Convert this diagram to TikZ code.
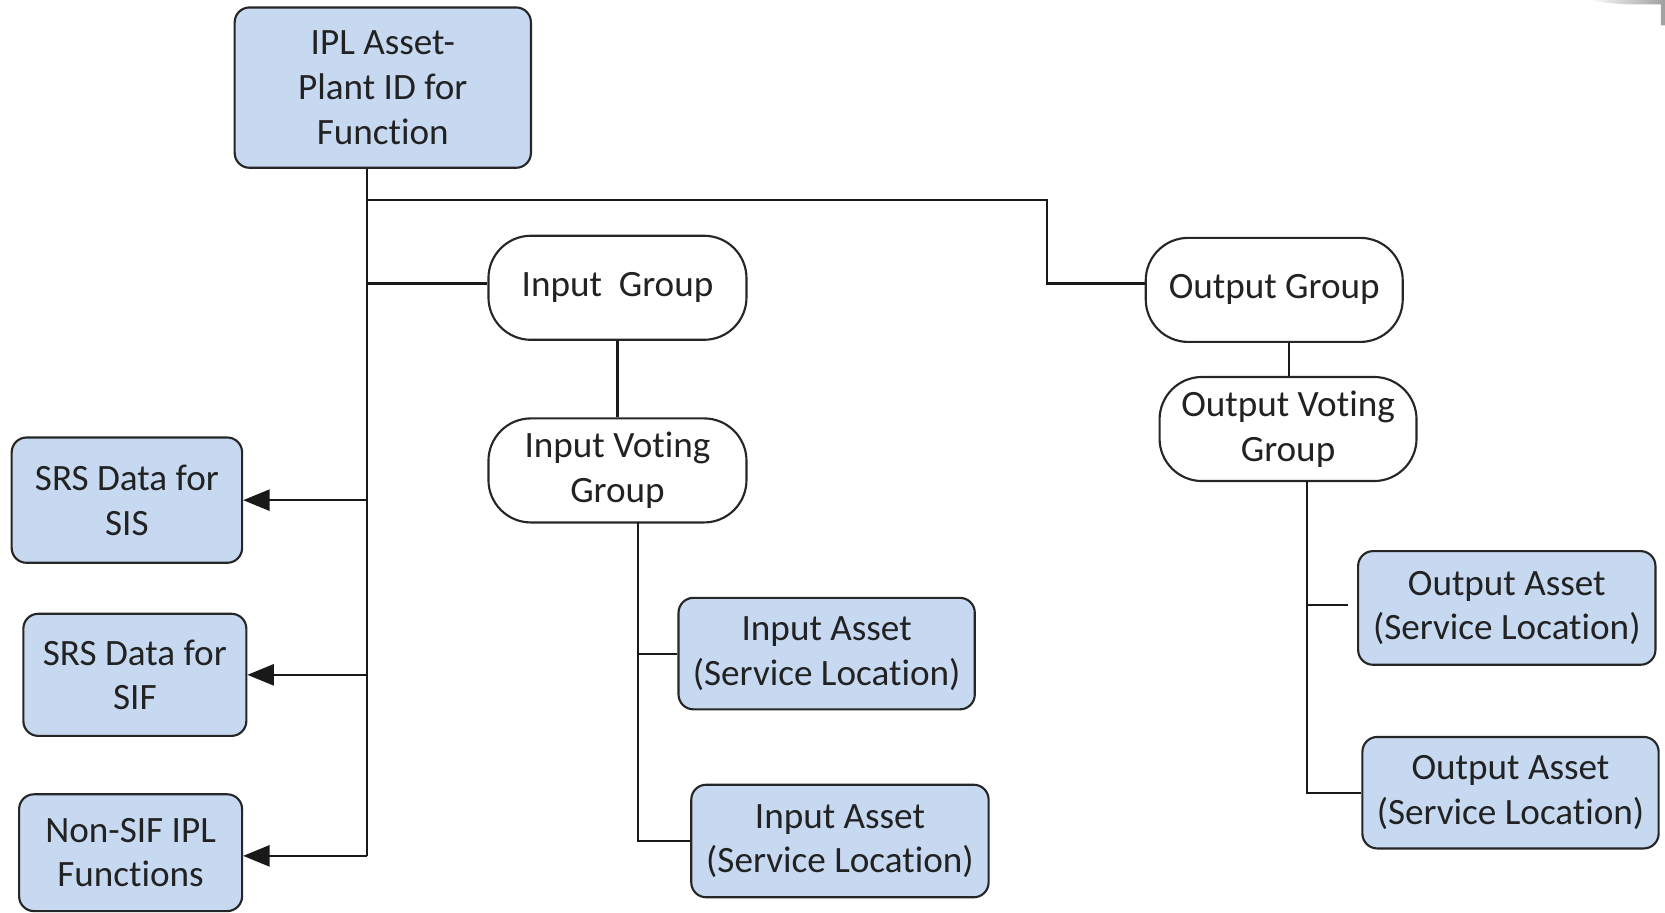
\documentclass[tikz,border=0pt]{standalone}
\usepackage{fontspec}
\setmainfont[Ligatures={NoCommon,NoContextual,NoRare}]{Carlito}
\usetikzlibrary{arrows.meta}
\definecolor{boxblue}{HTML}{C6D9F1}
\definecolor{txt}{HTML}{222222}
\begin{document}
\begin{tikzpicture}[x=0.5pt,y=-0.5pt,
  every node/.style={font=\fontsize{17.5}{21}\selectfont, text=txt, align=center, inner sep=0pt},
  bluebox/.style={draw=black!85, line width=1pt, fill=boxblue, rounded corners=7pt},
  groupbox/.style={draw=black!85, line width=1pt, fill=white, rounded corners=20pt},
  conn/.style={draw=black!90, line width=1pt},
  arr/.style={conn, -{Triangle[length=12.5pt,width=10pt]}}]
\useasboundingbox (0,0) rectangle (1568,859);
% top-right grey artifact
\shade[left color=white, right color=gray!75] (1495,0) -- (1568,0) -- (1568,24) -- (1564,24) -- (1564,4) -- (1530,4) .. controls (1515,3) .. (1495,0) -- cycle;
% nodes
\node[bluebox, minimum width=139.5pt, minimum height=75.5pt] (ipl) at (360.5,82.5) {IPL Asset-\\Plant ID for\\Function};
\node[bluebox, minimum width=108.5pt, minimum height=59pt] (sis) at (119.5,471) {SRS Data for\\SIS};
\node[bluebox, minimum width=105pt, minimum height=57.5pt] (sif) at (127,635.5) {SRS Data for\\SIF};
\node[bluebox, minimum width=105pt, minimum height=55pt] (nonsif) at (123,803) {Non-SIF IPL\\Functions};
\node[groupbox, minimum width=121.5pt, minimum height=49pt] (ing) at (581.5,271) {Input\ \ Group};
\node[groupbox, minimum width=121.5pt, minimum height=49pt] (invg) at (581.5,443) {Input Vot\kern0pt ing\\Group};
\node[groupbox, minimum width=121pt, minimum height=49pt] (outg) at (1200,273) {Output Group};
\node[groupbox, minimum width=121pt, minimum height=49pt] (outvg) at (1213,404) {Output Vot\kern0pt ing\\Group};
\node[bluebox, minimum width=139.5pt, minimum height=52.5pt] (ina1) at (778.5,615.5) {Input Asset\\(Service Locat\kern0pt ion)};
\node[bluebox, minimum width=140pt, minimum height=53pt] (ina2) at (791,792) {Input Asset\\(Service Locat\kern0pt ion)};
\node[bluebox, minimum width=140pt, minimum height=53.5pt] (outa1) at (1419,572.5) {Output Asset\\(Service Locat\kern0pt ion)};
\node[bluebox, minimum width=139.5pt, minimum height=52.5pt] (outa2) at (1422.5,746.5) {Output Asset\\(Service Locat\kern0pt ion)};
% junction coordinates
\coordinate (tTop) at (346,158);
\coordinate (tBot) at (346,806);
\coordinate (jTop) at (346,188);
\coordinate (jBend) at (986,188);
% trunk
\draw[conn] (ipl.south -| tTop) -- (tBot);
\draw[conn] (jTop) -- (jBend) |- (outg.west |- 0,267);
\draw[conn] (tTop |- 0,267) -- (ing.west |- 0,267);
\draw[arr] (sis.east -| tTop) -- (sis.east);
\draw[arr] (sif.east -| tTop) -- (sif.east);
\draw[arr] (tBot) -- (nonsif.east |- tBot);
% input side
\draw[conn] (ing.south) -- (invg.north);
\coordinate (iv) at (601,492);
\draw[conn] (iv) |- (ina2.west);
\draw[conn] (ina1.west -| iv) -- (ina1.west);
% output side
\draw[conn] (outg.south -| 1214,0) -- (outvg.north -| 1214,0);
\coordinate (ov) at (1231,453);
\draw[conn] (ov) |- (outa2.west);
\draw[conn, shorten >=4.5pt] (ov |- 0,570) -- (outa1.west |- 0,570);
\end{tikzpicture}
\end{document}
